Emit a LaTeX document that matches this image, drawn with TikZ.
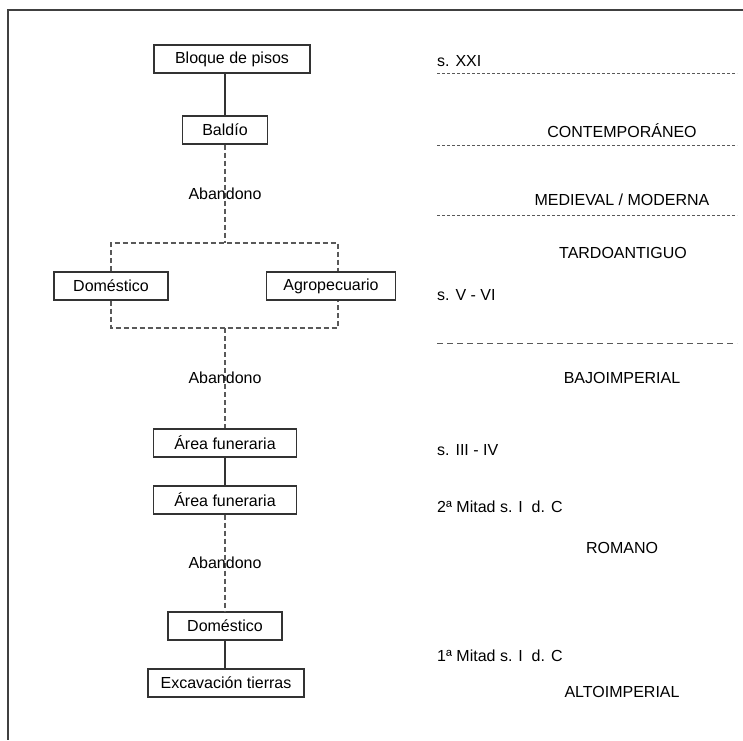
\documentclass[tikz,border=0pt]{standalone}
\usepackage{fontspec}
\setmainfont{Liberation Sans}
\begin{document}
\begin{tikzpicture}[x=1pt, y=-1pt,
    font=\fontsize{16}{19}\selectfont,
    caja/.style={draw=black!80, line width=1.3pt, fill=white, minimum height=28pt, inner sep=0pt},
    enlace/.style={draw=black!80, line width=1.1pt},
    corte/.style={draw=black!65, line width=1.3pt, dash pattern=on 5pt off 3pt},
    limite/.style={draw=black!65, line width=0.8pt, dash pattern=on 3pt off 2pt},
    limitelargo/.style={limite, dash pattern=on 6pt off 4pt}]

    % Page: 743 x 740 px, y grows downwards
    \useasboundingbox (0,0) rectangle (743,740);

    % Frame (only top and left edges are visible)
    \draw[black!75, line width=2pt] (743,10) -- (8,10) -- (8,740);

    % Sequence boxes (left column)
    \node[caja, minimum width=156pt] (bloque)   at (232,59)  {Bloque de pisos};
    \node[caja, minimum width=85pt]  (baldio)   at (225,130) {Baldío};
    \node[caja, minimum width=114pt] (domA)     at (111,286) {Doméstico};
    \node[caja, minimum width=129pt] (agro)     at (331,286) {Agropecuario};
    \node[caja, minimum width=143pt] (funA)     at (225,443) {Área funeraria};
    \node[caja, minimum width=143pt] (funB)     at (225,500) {Área funeraria};
    \node[caja, minimum width=114pt] (domB)     at (225,626) {Doméstico};
    \node[caja, minimum width=156pt] (excav)    at (226,683) {Excavación tierras};

    % Split / join points of the dashed bracket
    \coordinate (split) at (225,243);
    \coordinate (join)  at (225,328);

    % Connectors
    \draw[enlace] (baldio.north |- bloque.south) -- (baldio.north);
    \draw[corte] (baldio.south) -- (split)
      node[midway] (aband1) {Abandono};
    \draw[corte] (domA.north) |- (split) -| ([xshift=7pt]agro.north);
    \draw[corte] (domA.south) |- (join) -| ([xshift=7pt]agro.south);
    \draw[corte] (join) -- (funA.north)
      node[midway] (aband2) {Abandono};
    \draw[enlace] (funA.south) -- (funB.north);
    \draw[corte] (funB.south) -- (domB.north)
      node[midway] (aband3) {Abandono};
    \draw[enlace] (domB.south) -- (domB.south |- excav.north);

    % Dates (left-aligned)
    \foreach \y/\lbl in {61/{s. XXI}, 295/{s. V - VI}, 450/{s. III - IV},
                         507/{2ª Mitad s. I\ \ d. C}, 656/{1ª Mitad s. I\ \ d. C}} {
      \node[anchor=west, inner sep=0pt] at (437,\y) {\lbl};
    }

    % Periods (centred)
    \node (contemp) at (622,131) {CONTEMPORÁNEO};
    \node (medmod)  at (622,200) {MEDIEVAL / MODERNA};
    \node (tardo)   at (623,253) {TARDOANTIGUO};
    \node (bajo)    at (622,378) {BAJOIMPERIAL};
    \node (romano)  at (622,548) {ROMANO};
    \node (alto)    at (622,692) {ALTOIMPERIAL};

    % Period limits
    \foreach \y in {73, 145, 215} {
      \draw[limite] (437,\y) -- (737,\y);
    }
    \draw[limitelargo] (437,343) -- (737,343);

\end{tikzpicture}
\end{document}
